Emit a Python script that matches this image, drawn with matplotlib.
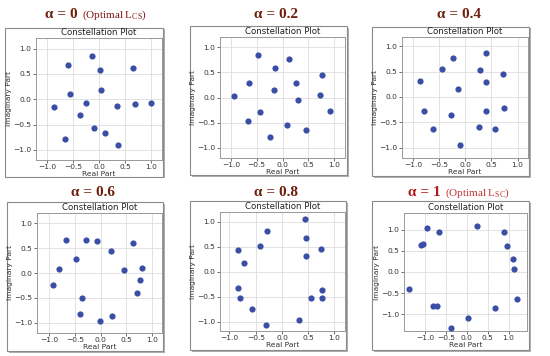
import numpy as np
import matplotlib
matplotlib.use("Agg")
import matplotlib.pyplot as plt
from matplotlib.patches import Rectangle
from matplotlib.offsetbox import TextArea, HPacker, AnnotationBbox

plt.rcParams['mathtext.fontset'] = 'custom'
plt.rcParams['mathtext.rm'] = 'Liberation Serif'

# constellation points (real, imag)
re_a00 = [-0.14, -0.61, 0.01, 0.65, 0.03, -0.57, -0.87, -0.26, 0.35, 0.68, 1.00, -0.38, -0.10, 0.12, -0.67, 0.36]
im_a00 = [0.86, 0.67, 0.58, 0.61, 0.18, 0.11, -0.16, -0.07, -0.14, -0.10, -0.07, -0.32, -0.56, -0.67, -0.78, -0.91]

re_a02 = [-0.47, 0.13, -0.14, 0.77, -0.65, 0.27, -0.17, -0.94, 0.72, 0.30, -0.43, 0.92, -0.67, 0.09, 0.45, -0.25]
im_a02 = [0.85, 0.76, 0.59, 0.44, 0.29, 0.29, 0.15, 0.03, 0.04, -0.05, -0.29, -0.26, -0.47, -0.55, -0.65, -0.79]

re_a04 = [0.40, -0.24, -0.44, 0.28, 0.73, 0.39, -0.86, -0.14, -0.78, 0.40, 0.74, -0.28, -0.62, 0.27, 0.56, -0.11]
im_a04 = [0.86, 0.76, 0.55, 0.53, 0.46, 0.30, 0.31, 0.15, -0.27, -0.28, -0.22, -0.35, -0.62, -0.59, -0.63, -0.94]

re_a06 = [-0.66, -0.28, -0.07, 0.20, 0.63, -0.48, -0.80, 0.46, 0.81, 0.77, 0.70, -0.92, -0.35, -0.39, -0.01, 0.22]
im_a06 = [0.66, 0.66, 0.64, 0.44, 0.60, 0.28, 0.08, 0.07, 0.11, -0.14, -0.40, -0.25, -0.50, -0.82, -0.96, -0.86]

re_a08 = [0.43, -0.29, 0.46, -0.41, 0.74, 0.45, -0.83, -0.73, -0.84, -0.80, 0.77, 0.55, 0.77, -0.57, 0.32, -0.31]
im_a08 = [1.05, 0.81, 0.67, 0.52, 0.46, 0.31, 0.43, 0.17, -0.32, -0.53, -0.36, -0.53, -0.53, -0.74, -0.97, -1.07]

re_a10 = [0.24, -0.94, -0.67, 0.90, 0.95, -1.09, -1.04, 1.10, 1.13, -1.39, 1.19, -0.80, -0.72, 0.67, 0.02, -0.37]
im_a10 = [1.08, 1.04, 0.94, 0.95, 0.61, 0.64, 0.66, 0.31, 0.07, -0.41, -0.63, -0.81, -0.81, -0.86, -1.10, -1.34]

alpha_labels = ["0", "0.2", "0.4", "0.6", "0.8", "1"]
notes = ["CS", None, None, None, None, "SC"]
ticks = [-1.0, -0.5, 0.0, 0.5, 1.0]

W, H = 550, 356
fig = plt.figure(figsize=(W / 100, H / 100), dpi=100)

def px_rect(l, t, r, b):
    return [l / W, 1 - b / H, (r - l) / W, (b - t) / H]

# (left, top, right, bottom) in pixels
boxes = [(5, 28, 163, 177), (190, 26, 347, 175), (372, 27, 529, 176),
         (7, 202, 163, 351), (190, 201, 346, 350), (372, 201, 529, 350)]
axes_px = [(36, 38, 162, 160), (220, 37, 345, 158), (402, 37, 528, 158),
           (37, 213, 162, 333), (220, 212, 345, 331), (404, 213, 527, 331)]
title_xy = [(96, 15), (276, 15), (459, 15), (93, 192), (276, 192), (459, 193)]
limits = [((-1.22, 1.21), (-1.2, 1.21)), ((-1.21, 1.21), (-1.2, 1.2)), ((-1.21, 1.2), (-1.2, 1.18)),
          ((-1.23, 1.19), (-1.21, 1.21)), ((-1.18, 1.2), (-1.19, 1.2)), ((-1.5, 1.44), (-1.4, 1.4))]

series = [(re_a00, im_a00), (re_a02, im_a02), (re_a04, im_a04),
          (re_a06, im_a06), (re_a08, im_a08), (re_a10, im_a10)]

for i in range(6):
    l, t, r, b = boxes[i]
    x0, y0, w, h = px_rect(l, t, r, b)
    # shadow + frame
    fig.add_artist(Rectangle((x0 + 1.5 / W, y0 - 1.5 / H), w, h, transform=fig.transFigure,
                             facecolor='#b0b0b0', edgecolor='none', zorder=0))
    fig.add_artist(Rectangle((x0, y0), w, h, transform=fig.transFigure,
                             facecolor='white', edgecolor='#8a8a8a', linewidth=0.8, zorder=0.5))

    ax = fig.add_axes(px_rect(*axes_px[i]))
    ax.set_zorder(2)
    xs, ys = series[i]
    ax.scatter(xs, ys, s=20, color='#3b4ea6', zorder=3, linewidths=0)
    ax.set_xlim(*limits[i][0])
    ax.set_ylim(*limits[i][1])
    ax.set_xticks(ticks)
    ax.set_yticks(ticks)
    ax.grid(True, color='#dddddd', linewidth=0.6)
    ax.set_axisbelow(True)
    for sp in ax.spines.values():
        sp.set_color('#999999')
        sp.set_linewidth(0.7)
    ax.tick_params(labelsize=5.4, length=2, width=0.5, pad=1.2, colors='#333333')
    ax.set_title("Constellation Plot", fontsize=6.2, pad=2, color='#222222')
    ax.set_xlabel("Real Part", fontsize=5.4, labelpad=0.3, color='#333333')
    ax.set_ylabel("Imaginary Part", fontsize=5.4, labelpad=0.8, color='#333333')

    # panel heading
    strong = '#b01818' if i == 5 else '#6e1f0e'
    soft = '#c03030' if i == 5 else '#7d1414'
    parts = [TextArea("α = " + alpha_labels[i],
                      textprops=dict(fontsize=11, fontweight='bold', family='Liberation Serif', color=strong))]
    if notes[i]:
        parts.append(TextArea("(Optimal L$_{\\mathrm{" + notes[i] + "}}$)",
                              textprops=dict(fontsize=8, family='Liberation Serif', color=soft)))
    pack = HPacker(children=parts, align='baseline', pad=0, sep=3)
    tx, ty = title_xy[i]
    fig.add_artist(AnnotationBbox(pack, (tx / W, 1 - ty / H), xycoords='figure fraction',
                                  frameon=False, box_alignment=(0.5, 0.5), pad=0))

fig.savefig("out.png", dpi=100)
